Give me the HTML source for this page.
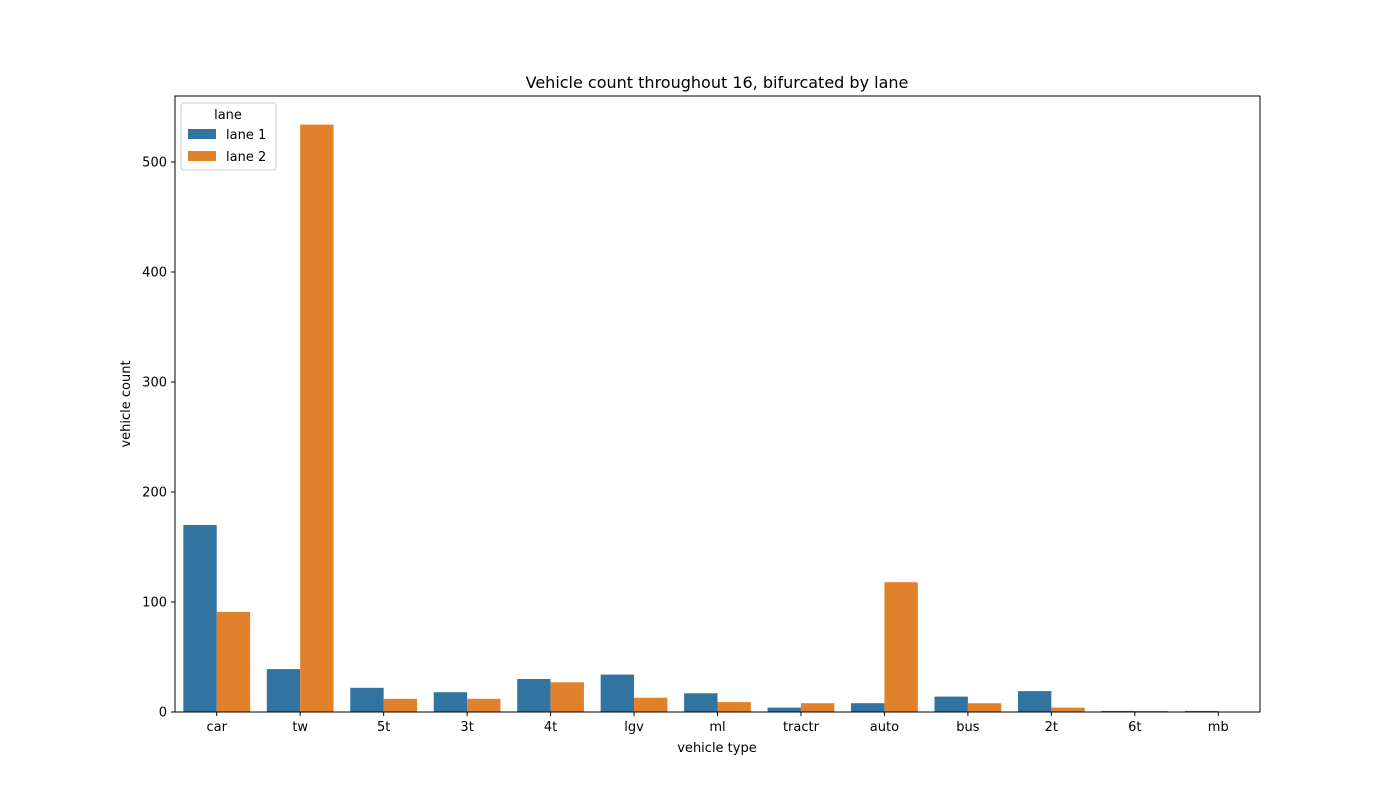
<!DOCTYPE html>
<html><head><meta charset="utf-8"><style>
body{margin:0;background:#fff;}
svg{display:block;font-family:"DejaVu Sans","Liberation Sans",sans-serif;}
</style></head><body>
<svg id="chart" width="1400" height="800">
<rect width="1400" height="800" fill="#fff"/>
<text x="717" y="88" text-anchor="middle" font-size="16">Vehicle count throughout 16, bifurcated by lane</text>
<g id="bars"></g>
<g id="axes"></g>
<text x="717" y="752" text-anchor="middle" font-size="13">vehicle type</text>
<text transform="translate(130,404) rotate(-90)" text-anchor="middle" font-size="13">vehicle count</text>
<g>
<rect x="181" y="103" width="95" height="67" fill="#fff" fill-opacity="0.8" stroke="#ccc" rx="3"/>
<text x="228" y="119" text-anchor="middle" font-size="13">lane</text>
<rect x="188" y="129" width="28" height="10" fill="#3274a1"/>
<text x="226" y="139" font-size="13">lane 1</text>
<rect x="188" y="151" width="28" height="10" fill="#e1812c"/>
<text x="226" y="161" font-size="13">lane 2</text>
</g>
</svg>
<script>
const categories=["car","tw","5t","3t","4t","lgv","ml","tractr","auto","bus","2t","6t","mb"];
const lane1=[170,39,22,18,30,34,17,4,8,14,19,1,1];
const lane2=[91,534,12,12,27,13,9,8,118,8,4,1,0];
const yTicks=[0,100,200,300,400,500];
const L=175,R=1260,T=96,B=712,YMAX=560;
const ns="http://www.w3.org/2000/svg";
const step=(R-L)/categories.length;
const y=v=>B-(v/YMAX)*(B-T);
const xc=i=>L+step*(i+0.5);
const bars=document.getElementById('bars'),axes=document.getElementById('axes');
function mk(tag,attrs,parent){const e=document.createElementNS(ns,tag);for(const k in attrs)e.setAttribute(k,attrs[k]);parent.appendChild(e);return e;}
const bw=step*0.4;
categories.forEach((c,i)=>{
  const r1=mk('rect',{x:xc(i)-bw,y:y(lane1[i]),width:bw,height:B-y(lane1[i]),fill:'#3274a1'},bars);
  
  
  const r2=mk('rect',{x:xc(i),y:y(lane2[i]),width:bw,height:B-y(lane2[i]),fill:'#e1812c'},bars);
  
  
  mk('line',{x1:xc(i),x2:xc(i),y1:B,y2:B+4,stroke:'#000'},axes);
  const t=mk('text',{x:xc(i),y:B+19,'text-anchor':'middle','font-size':13},axes);
  t.textContent=c;
  
  
});
yTicks.forEach(v=>{
  mk('line',{x1:L-4,x2:L,y1:y(v),y2:y(v),stroke:'#000'},axes);
  const t=mk('text',{x:L-8,y:y(v)+4.5,'text-anchor':'end','font-size':13},axes);
  t.textContent=v;
  
  
});
const f=mk('rect',{x:L,y:T,width:R-L,height:B-T,fill:'none',stroke:'#000','stroke-width':1},axes);


</script>
</body></html>
